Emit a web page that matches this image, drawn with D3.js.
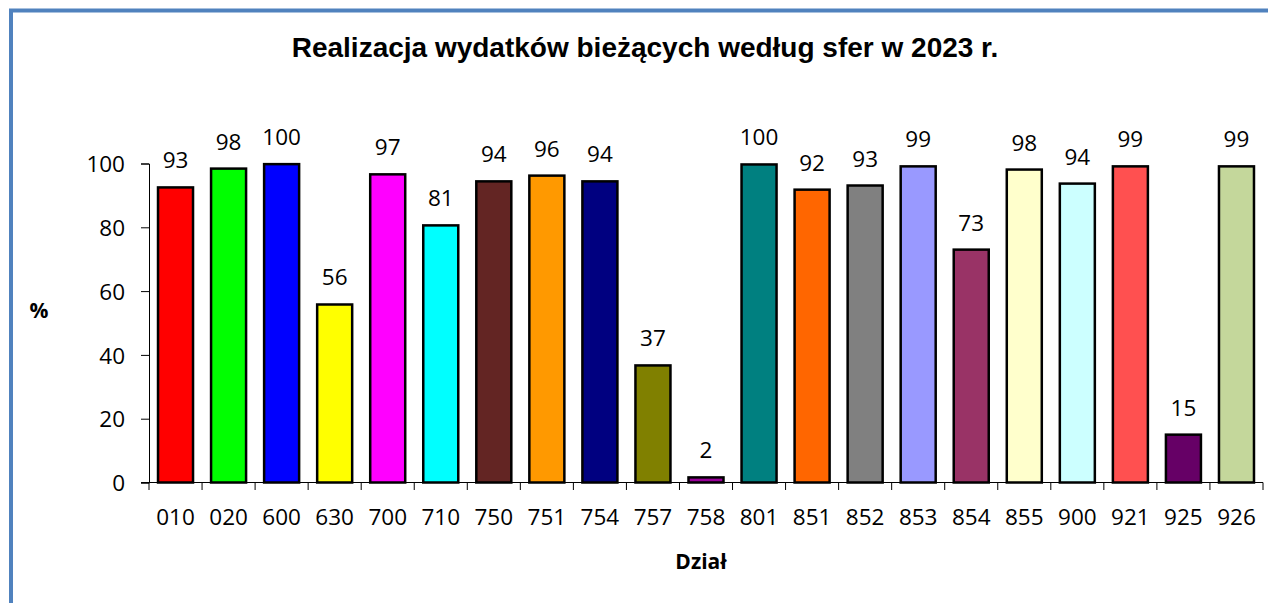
<!DOCTYPE html>
<html lang="pl">
<head>
<meta charset="UTF-8">
<title>Realizacja wydatków bieżących według sfer w 2023 r.</title>
<script src="https://cdnjs.cloudflare.com/ajax/libs/d3/7.8.5/d3.min.js"></script>
<style>
    body { margin: 0; background: #fff; }
    svg { display: block; }
    .title { font-family: "Liberation Sans", Arial, sans-serif; font-weight: bold; font-size: 28px; }
    .tick text, .val { font-family: "Open Sans", "Noto Sans", sans-serif; font-size: 22.5px; fill: #000; }
    .axlab { font-family: "Open Sans", "Noto Sans", sans-serif; font-weight: bold; font-size: 21px; }
</style>
</head>
<body>
<div id="chart"></div>
<script>
// Data
const categories = ["010","020","600","630","700","710","750","751","754","757","758","801","851","852","853","854","855","900","921","925","926"];
const values = [92.5, 98.4, 99.8, 55.8, 96.6, 80.6, 94.4, 96.2, 94.4, 36.7, 1.6, 99.7, 91.8, 93.1, 99.1, 73.0, 98.1, 93.7, 99.1, 15.0, 99.1];
const colors = ["#FF0000","#00FF00","#0000FF","#FFFF00","#FF00FF","#00FFFF","#632523","#FF9900","#000080","#808000","#990099","#008080","#FF6600","#808080","#9999FF","#993366","#FFFFCC","#CCFFFF","#FF5050","#660066","#C4D79B"];
const yTicks = [0, 20, 40, 60, 80, 100];

const width = 1268, height = 603;
const svg = d3.select("#chart").append("svg")
    .attr("width", width).attr("height", height);

// frame (only left and top edges are visible in the picture)
svg.append("rect")
    .attr("x", 11).attr("y", 10.5)
    .attr("width", 1400).attr("height", 800)
    .attr("fill", "none").attr("stroke", "#5082BE").attr("stroke-width", 4);

svg.append("text").attr("class", "title")
    .attr("x", 645).attr("y", 57).attr("text-anchor", "middle")
    .text("Realizacja wydatków bieżących według sfer w 2023 r.");

const x = d3.scaleBand().domain(categories).range([149, 1263]).paddingInner(0.34).paddingOuter(0.17);
const y = d3.scaleLinear().domain([0, 100]).range([482.5, 163.5]);

// y axis
const yAxis = svg.append("g").attr("transform", "translate(149,0)")
    .call(d3.axisLeft(y).tickValues(yTicks).tickSize(8).tickPadding(16));
yAxis.select(".domain").attr("stroke", "#000");
yAxis.selectAll(".tick text").attr("dy", "0.36em");

// x axis: ticks between categories
const bounds = d3.range(categories.length + 1).map(i => 149 + i * x.step());
const xg = svg.append("g");
xg.append("line").attr("x1", 141).attr("x2", 1263).attr("y1", 482.5).attr("y2", 482.5).attr("stroke", "#000");
xg.selectAll("line.tk").data(bounds).join("line").attr("class", "tk")
    .attr("x1", d => d).attr("x2", d => d)
    .attr("y1", 482.5).attr("y2", 490).attr("stroke", "#000");
xg.selectAll("text").data(categories).join("text")
    .attr("class", "val")
    .attr("x", d => x(d) + x.bandwidth() / 2)
    .attr("y", 525)
    .attr("text-anchor", "middle")
    .text(d => d);

// bars
svg.append("g").selectAll("rect").data(categories).join("rect")
    .attr("x", d => x(d))
    .attr("y", (d, i) => y(values[i]))
    .attr("width", x.bandwidth())
    .attr("height", (d, i) => y(0) - y(values[i]))
    .attr("fill", (d, i) => colors[i])
    .attr("stroke", "#000").attr("stroke-width", 2.5);

// value labels
svg.append("g").selectAll("text").data(categories).join("text")
    .attr("class", "val")
    .attr("x", d => x(d) + x.bandwidth() / 2)
    .attr("y", (d, i) => y(values[i]) - 19)
    .attr("text-anchor", "middle")
    .text((d, i) => Math.round(values[i]));

svg.append("text").attr("class", "axlab").attr("x", 39).attr("y", 318).attr("text-anchor", "middle").text("%");
svg.append("text").attr("class", "axlab").attr("x", 701).attr("y", 569).attr("text-anchor", "middle").text("Dział");
</script>
</body>
</html>
